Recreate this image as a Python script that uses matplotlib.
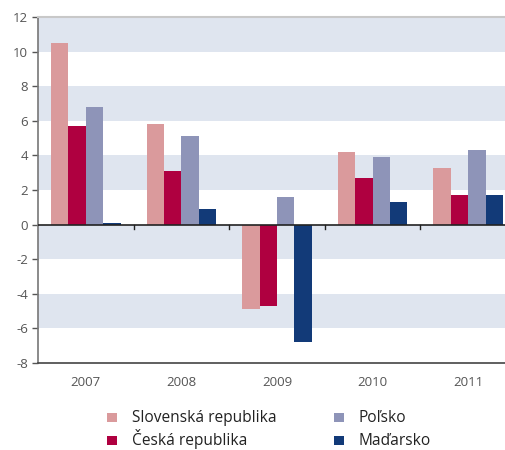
import numpy as np
import matplotlib
matplotlib.use("Agg")
import matplotlib.pyplot as plt
from matplotlib.patches import Rectangle

years = ["2007", "2008", "2009", "2010", "2011"]
slovensko = [10.5, 5.8, -4.9, 4.2, 3.3]
cesko = [5.7, 3.1, -4.7, 2.7, 1.7]
polsko = [6.8, 5.1, 1.6, 3.9, 4.3]
madarsko = [0.1, 0.9, -6.8, 1.3, 1.7]

names = ["Slovenská republika", "Česká republika", "Poľsko", "Maďarsko"]
colors = ["#DA9A9C", "#AF0040", "#8E94B8", "#123A78"]

plt.rcParams['font.family'] = ['Open Sans', 'DejaVu Sans']

W, H = 505, 450
fig = plt.figure(figsize=(W / 100, H / 100), dpi=100)
ax = fig.add_axes([38/W, 1 - 363/H, 1 - 38/W, (363 - 17)/H])

x = np.arange(len(years))
w = 0.182
series = [slovensko, cesko, polsko, madarsko]
for i, (vals, c) in enumerate(zip(series, colors)):
    ax.bar(x + (i - 1.5) * w, vals, width=w, color=c, zorder=3, linewidth=0)

# shaded bands
for lo in [10, 6, 2, -2, -6]:
    ax.axhspan(lo, lo + 2, color="#DFE5EF", zorder=0, linewidth=0)

ax.set_ylim(-8, 12)
ax.set_xlim(-0.5, 4.5 - 11/96)
ax.set_yticks(range(-8, 13, 2))
ax.set_yticklabels([str(v) for v in range(-8, 13, 2)], color="#555555", fontsize=9.5)
ax.tick_params(axis="y", direction="out", length=4, color="#555555", width=1, pad=3)

# zero line with category boundary ticks
ax.axhline(0, color="#222222", lw=1.2, zorder=4)
for b in np.arange(0.5, 4.5, 1):
    ax.plot([b, b], [0, -0.25], color="#222222", lw=1, zorder=4, clip_on=False)

ax.set_xticks(x)
ax.set_xticklabels(years, color="#555555", fontsize=9.5)
ax.tick_params(axis="x", length=0, pad=9)

ax.spines["right"].set_visible(False)
ax.spines["top"].set_color("#C8C8C8")
ax.spines["top"].set_linewidth(1.5)
ax.spines["left"].set_color("#777777")
ax.spines["left"].set_linewidth(1.2)
ax.spines["bottom"].set_color("#444444")
ax.spines["bottom"].set_linewidth(1.2)

# legend drawn by hand so both columns share the same baselines
cols_x = [107, 107, 334, 334]
rows_base = [422, 445, 422, 445]
for name, c, lx, by in zip(names, colors, cols_x, rows_base):
    fig.add_artist(Rectangle((lx / W, 1 - (by - 0.5) / H), 9.5 / W, 8.8 / H,
                             transform=fig.transFigure, facecolor=c, edgecolor="none"))
    fig.text((lx + 25) / W, 1 - by / H, name, fontsize=11.2, color="#222222",
             va="baseline", ha="left")

fig.savefig("out.png", dpi=100)
